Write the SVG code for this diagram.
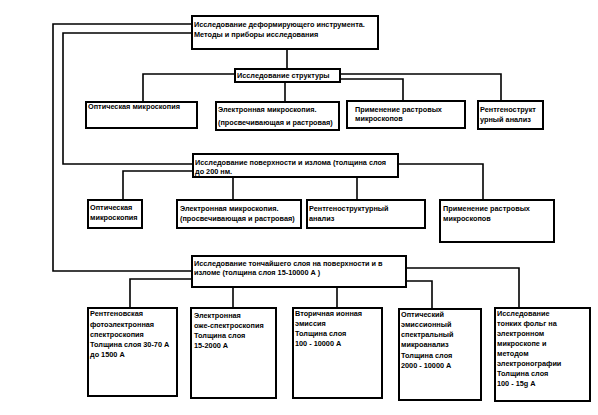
<svg xmlns="http://www.w3.org/2000/svg" width="598" height="415" viewBox="0 0 598 415">
<style>
.b{fill:#fff;stroke:#000;stroke-width:2}
.t{font-family:"Liberation Sans",Arial,sans-serif;font-size:7.3px;font-weight:bold;fill:#000}
.c{fill:none;stroke:#000;stroke-width:1.6}
</style>
<rect width="598" height="415" fill="#fff"/>
<g id="connectors">
<polyline class="c" points="192,24 53,24 53,271 192,271"/>
<polyline class="c" points="192,33 63,33 63,164 193,164"/>
<line class="c" x1="287" y1="49" x2="287" y2="69"/>
<polyline class="c" points="235,74 143,74 143,102"/>
<line class="c" x1="285" y1="82" x2="285" y2="102"/>
<polyline class="c" points="340,74 501,74 501,101"/>
<polyline class="c" points="340,79 403,79 403,101"/>
<polyline class="c" points="193,171 123,171 123,200"/>
<line class="c" x1="233" y1="177" x2="233" y2="200"/>
<line class="c" x1="357" y1="177" x2="357" y2="200"/>
<polyline class="c" points="398,164 483,164 483,200"/>
<polyline class="c" points="192,279 130,279 130,308"/>
<line class="c" x1="233" y1="287" x2="233" y2="308"/>
<line class="c" x1="337" y1="287" x2="337" y2="308"/>
<polyline class="c" points="406,281 432,281 432,309"/>
<polyline class="c" points="406,268 519,268 519,308"/>
</g>
<g id="n-root"><rect class="b" x="192" y="16" width="186" height="33"/>
<text class="t" x="194" y="27">Исследование деформирующего инструмента.</text>
<text class="t" x="194" y="37">Методы и приборы исследования</text></g>
<g id="n-struct"><rect class="b" x="235" y="69" width="105" height="13"/>
<text class="t" x="237" y="78">Исследование структуры</text></g>
<g id="n-s-opt"><rect class="b" x="86" y="102" width="111" height="26"/>
<text class="t" x="88" y="109">Оптическая микроскопия</text></g>
<g id="n-s-el"><rect class="b" x="216" y="102" width="123" height="28"/>
<text class="t" x="218" y="112">Электронная микроскопия.</text>
<text class="t" x="218" y="125">(просвечивающая и растровая)</text></g>
<g id="n-s-app"><rect class="b" x="347" y="101" width="118" height="27"/>
<text class="t" x="355" y="112">Применение растровых</text>
<text class="t" x="355" y="121">микроскопов</text></g>
<g id="n-s-xr"><rect class="b" x="478" y="101" width="65" height="28"/>
<text class="t" x="480" y="112">Рентгенострукт</text>
<text class="t" x="480" y="122">урный  анализ</text></g>
<g id="n-surf"><rect class="b" x="193" y="154" width="205" height="23"/>
<text class="t" x="195" y="165">Исследование поверхности и излома (толщина слоя</text>
<text class="t" x="195" y="174">до 200 нм.</text></g>
<g id="n-f-opt"><rect class="b" x="88" y="200" width="54" height="28"/>
<text class="t" x="90" y="210">Оптическая</text>
<text class="t" x="90" y="220">микроскопия</text></g>
<g id="n-f-el"><rect class="b" x="177" y="200" width="124" height="28"/>
<text class="t" x="180" y="211">Электронная микроскопия.</text>
<text class="t" x="180" y="221">(просвечивающая и растровая)</text></g>
<g id="n-f-xr"><rect class="b" x="307" y="200" width="118" height="28"/>
<text class="t" x="309" y="211">Рентгеноструктурный</text>
<text class="t" x="309" y="221">анализ</text></g>
<g id="n-f-app"><rect class="b" x="440" y="200" width="114" height="42"/>
<text class="t" x="443" y="211">Применение растровых</text>
<text class="t" x="443" y="221">микроскопов</text></g>
<g id="n-thin"><rect class="b" x="192" y="256" width="214" height="31"/>
<text class="t" x="194" y="266">Исследование тончайшего слоя на поверхности и в</text>
<text class="t" x="194" y="275">изломе (толщина слоя 15-10000 А )</text></g>
<g id="n-t1"><rect class="b" x="88" y="308" width="89" height="88"/>
<text class="t" x="90" y="316">Рентгеновская</text>
<text class="t" x="90" y="327">фотоэлектронная</text>
<text class="t" x="90" y="337">спектроскопия</text>
<text class="t" x="90" y="347">Толщина слоя 30-70 А</text>
<text class="t" x="90" y="357">до 1500 А</text></g>
<g id="n-t2"><rect class="b" x="191" y="308" width="85" height="90"/>
<text class="t" x="194" y="318">Электронная</text>
<text class="t" x="194" y="328">оже-спектроскопия</text>
<text class="t" x="194" y="338">Толщина слоя</text>
<text class="t" x="194" y="348">15-2000 А</text></g>
<g id="n-t3"><rect class="b" x="293" y="308" width="89" height="90"/>
<text class="t" x="295" y="316">Вторичная ионная</text>
<text class="t" x="295" y="326">эмиссия</text>
<text class="t" x="295" y="336">Толщина слоя</text>
<text class="t" x="295" y="346">100 - 10000 А</text></g>
<g id="n-t4"><rect class="b" x="399" y="309" width="82" height="91"/>
<text class="t" x="401" y="317">Оптический</text>
<text class="t" x="401" y="327">эмиссионный</text>
<text class="t" x="401" y="337">спектральный</text>
<text class="t" x="401" y="347">микроанализ</text>
<text class="t" x="401" y="358">Толщина слоя</text>
<text class="t" x="401" y="368">2000 - 10000 А</text></g>
<g id="n-t5"><rect class="b" x="495" y="308" width="95" height="93"/>
<text class="t" x="497" y="316">Исследование</text>
<text class="t" x="497" y="326">тонких фольг на</text>
<text class="t" x="497" y="336">электронном</text>
<text class="t" x="497" y="346">микроскопе и</text>
<text class="t" x="497" y="356">методом</text>
<text class="t" x="497" y="366">электронографии</text>
<text class="t" x="497" y="376">Толщина слоя</text>
<text class="t" x="497" y="386">100 - 15g А</text></g>
</svg>
